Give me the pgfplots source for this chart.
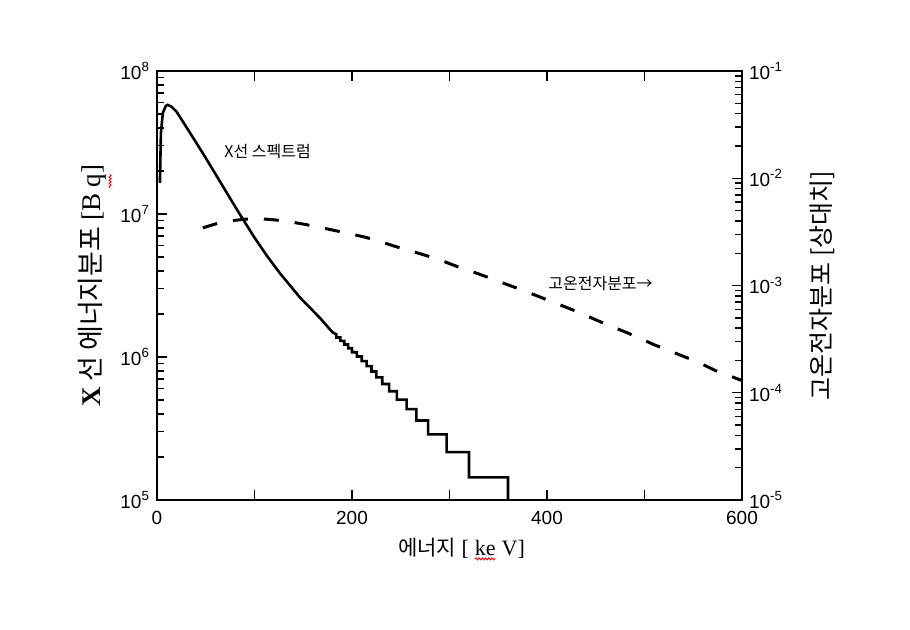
\documentclass[border=0pt]{standalone}
\usepackage{fontspec}
\setmainfont{Liberation Sans}
\newfontfamily\kr{Noto Sans CJK KR}
\newfontfamily\tms{Liberation Serif}
\usepackage{pgfplots}
\pgfplotsset{compat=1.18}
\usetikzlibrary{decorations.pathmorphing}
\newcommand\squig[1]{\tikz[baseline=(t.base)]{\node[inner sep=0pt,outer sep=0pt](t){#1};\draw[red,line width=0.45pt,decorate,decoration={snake,amplitude=0.5pt,segment length=1.6pt}]([yshift=-1.8pt]t.south west)--([yshift=-1.8pt]t.south east);}}
\begin{document}
\begin{tikzpicture}
\begin{axis}[
  scale only axis, width=292.5pt, height=214.5pt,
  xmin=0, xmax=600, ymode=log, ymin=1e5, ymax=1e8,
  xtick={0,100,200,300,400,500,600},
  xticklabels={0,,200,,400,,600},
  xtick pos=both,
  xticklabel style={yshift=-2pt},
  ytick={1e5,1e6,1e7,1e8},
  yticklabels={10\textsuperscript{5},10\textsuperscript{6},10\textsuperscript{7},10\textsuperscript{8}},
  minor ytick={2e5,3e5,4e5,5e5,6e5,7e5,8e5,9e5,2e6,3e6,4e6,5e6,6e6,7e6,8e6,9e6,2e7,3e7,4e7,5e7,6e7,7e7,8e7,9e7},
  ytick pos=left,
  tick align=inside,
  major tick length=5pt, minor tick length=3.5pt,
  axis line style={line width=0.9pt},
  every tick/.style={black, line width=0.7pt},
  tick label style={font=\fontsize{9.5}{11}\selectfont},
  clip=true,
  xlabel={{\kr\fontsize{10.5}{12}\selectfont 에너지} {\tms\fontsize{11}{12}\selectfont [ \squig{ke} V]}},
  xlabel style={at={(axis description cs:0.5,0)}, anchor=center, xshift=6pt, yshift=-24.5pt},
  ylabel={{\tms\bfseries\fontsize{13.5}{15}\selectfont X}\hspace{0.25em}{\kr\fontsize{13.5}{15}\selectfont 선 에너지분포}\hspace{0.3em}{\tms\fontsize{13.5}{15}\selectfont [B\hspace{0.2em}\squig{q}]}},
  ylabel style={at={(axis description cs:-0.106,0.5)}, anchor=center},
]
\addplot[black, line width=1.3pt] coordinates {
(3,1.65e7)(4,3.68e7)(6,5.09e7)(9,5.7e7)(11,5.8e7)(15,5.62e7)(20,5.2e7)(32,3.87e7)
(49,2.53e7)(67,1.585e7)(83,1.046e7)(100,6.84e6)(113,5.07e6)(126,3.86e6)(147,2.59e6)
(167,1.88e6)(180,1.49e6)
(184,1.44e6)(184,1.368e6)(188,1.368e6)(188,1.296e6)(192,1.296e6)(192,1.224e6)
(196,1.224e6)(196,1.152e6)(200,1.152e6)(200,1.08e6)(205,1.08e6)(205,1.008e6)
(210,1.008e6)(210,9.36e5)(215,9.36e5)(215,8.64e5)(220,8.64e5)(220,7.92e5)
(225,7.92e5)(225,7.2e5)(231,7.2e5)(231,6.48e5)(238,6.48e5)(238,5.76e5)
(246,5.76e5)(246,5.04e5)(256,5.04e5)(256,4.32e5)(266,4.32e5)(266,3.6e5)
(278,3.6e5)(278,2.88e5)(297,2.88e5)(297,2.16e5)(320,2.16e5)(320,1.44e5)
(360,1.44e5)(360,5e4)
};
\node[anchor=west, font=\kr\fontsize{8}{10}\selectfont, inner sep=0pt] at (axis cs:68.7,2.72e7) {X선 스펙트럼};
\node[anchor=west, font=\kr\fontsize{8}{10}\selectfont, inner sep=0pt] at (axis cs:401,3.29e6) {고온전자분포→};
\end{axis}
\begin{axis}[
  scale only axis, width=292.5pt, height=214.5pt,
  xmin=0, xmax=600, ymode=log, ymin=1e-5, ymax=1e-1,
  axis x line=none, axis y line*=right,
  ytick={1e-5,1e-4,1e-3,1e-2,1e-1},
  yticklabels={10\textsuperscript{-5},10\textsuperscript{-4},10\textsuperscript{-3},10\textsuperscript{-2},10\textsuperscript{-1}},
  minor ytick={2e-5,3e-5,4e-5,5e-5,6e-5,7e-5,8e-5,9e-5,2e-4,3e-4,4e-4,5e-4,6e-4,7e-4,8e-4,9e-4,2e-3,3e-3,4e-3,5e-3,6e-3,7e-3,8e-3,9e-3,2e-2,3e-2,4e-2,5e-2,6e-2,7e-2,8e-2,9e-2},
  ytick pos=right,
  tick align=inside,
  major tick length=5pt, minor tick length=3.5pt,
  axis line style={line width=0.9pt},
  every tick/.style={black, line width=0.7pt},
  tick label style={font=\fontsize{9.5}{11}\selectfont},
  ylabel={\kr\fontsize{12.5}{14}\selectfont 고온전자분포 [상대치]},
  ylabel style={at={(axis description cs:1.137,0.5)}, anchor=center},
]
\addplot[black, line width=1.5pt, dash pattern=on 7.5pt off 8pt] coordinates {
(47,3.45e-3)(60,3.75e-3)(75,4.0e-3)(90,4.15e-3)(105,4.2e-3)(120,4.1e-3)(135,3.95e-3)
(150,3.74e-3)(165,3.52e-3)(180,3.29e-3)(195,3.08e-3)(213,2.83e-3)(230,2.55e-3)
(246,2.29e-3)(262,2.08e-3)(278,1.88e-3)(294,1.68e-3)(309,1.49e-3)(325,1.33e-3)
(342,1.17e-3)(358,1.03e-3)(374,9.1e-4)(390,8.0e-4)(406,7.0e-4)(421,6.2e-4)
(437,5.4e-4)(452,4.7e-4)(468,4.1e-4)(483,3.6e-4)(497,3.17e-4)(510,2.8e-4)
(524,2.5e-4)(538,2.22e-4)(552,1.98e-4)(564,1.76e-4)(576,1.56e-4)(588,1.43e-4)(600,1.3e-4)
};
\end{axis}
\path ([xshift=-78.5pt,yshift=-64.5pt]current axis.south west) -- ([xshift=84pt,yshift=35.5pt]current axis.north east);
\end{tikzpicture}
\end{document}
